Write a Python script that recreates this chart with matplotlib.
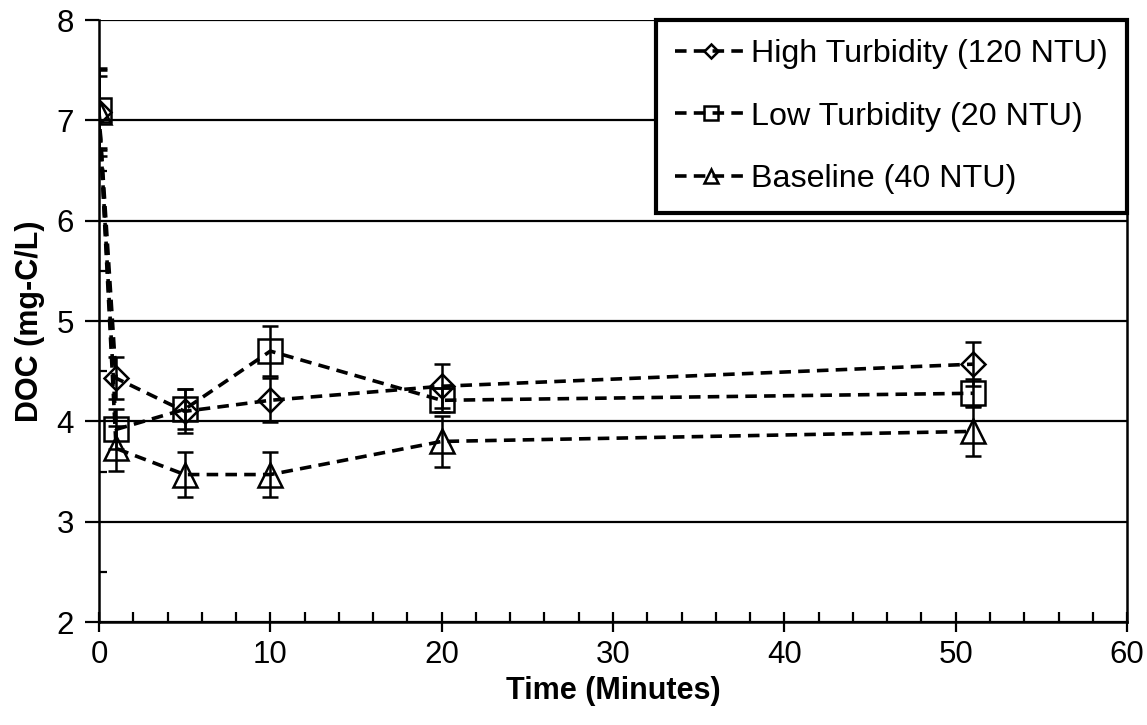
import matplotlib
matplotlib.use("Agg")
import matplotlib.pyplot as plt
from matplotlib.ticker import MultipleLocator

plt.rcParams['font.family'] = ['Liberation Sans', 'DejaVu Sans']

time = [0, 1, 5, 10, 20, 51]
high = [7.08, 4.43, 4.10, 4.21, 4.35, 4.57]
high_err = [0.44, 0.21, 0.22, 0.22, 0.22, 0.22]
low = [7.10, 3.92, 4.12, 4.70, 4.21, 4.28]
low_err = [0.40, 0.20, 0.20, 0.25, 0.12, 0.14]
base = [7.08, 3.73, 3.47, 3.47, 3.80, 3.90]
base_err = [0.36, 0.22, 0.22, 0.22, 0.25, 0.25]

labels = ["High Turbidity (120 NTU)", "Low Turbidity (20 NTU)", "Baseline (40 NTU)"]

fig = plt.figure(figsize=(11.47, 7.25), dpi=100)
ax = fig.add_axes([0.0863, 0.142, 0.8963, 0.8304])

series = [(high, high_err, 'D', 12), (low, low_err, 's', 17), (base, base_err, '^', 17)]
handles = []
for (vals, errs, mk, ms), lab in zip(series, labels):
    ax.errorbar(time, vals, yerr=errs, fmt='none', ecolor='black', elinewidth=1.8,
                capsize=6, capthick=1.8, zorder=3)
    h, = ax.plot(time, vals, linestyle=(0, (3.2, 2.0)), color='black', linewidth=2.6,
                 marker=mk, markersize=ms, markerfacecolor='none',
                 markeredgecolor='black', markeredgewidth=1.8, label=lab, zorder=4)
    handles.append(h)

ax.set_xlim(0, 60)
ax.set_ylim(2, 8)
ax.xaxis.set_major_locator(MultipleLocator(10))
ax.xaxis.set_minor_locator(MultipleLocator(2))
ax.yaxis.set_major_locator(MultipleLocator(1))
ax.yaxis.set_minor_locator(MultipleLocator(0.5))

ax.grid(axis='y', which='major', color='black', linewidth=1.6, zorder=1)
ax.tick_params(axis='x', which='major', direction='inout', length=14, width=1.6,
               labelsize=22.5, pad=6)
ax.tick_params(axis='x', which='minor', direction='in', length=7, width=1.6)
ax.tick_params(axis='y', which='major', direction='out', length=10, width=1.6,
               labelsize=22.5, pad=8)
ax.tick_params(axis='y', which='minor', direction='in', length=6, width=1.6)

for side in ['left', 'bottom', 'right']:
    ax.spines[side].set_linewidth(1.8)
ax.spines['top'].set_visible(False)

ax.set_xlabel("Time (Minutes)", fontsize=22, fontweight='bold', labelpad=4)
ax.set_ylabel("DOC (mg-C/L)", fontsize=22, fontweight='bold', labelpad=8)

leg = ax.legend(handles=handles, loc='upper right', fontsize=23.2, frameon=True,
                fancybox=False, edgecolor='black', framealpha=1, markerscale=0.6,
                borderaxespad=0, handlelength=2.2, handletextpad=0.15,
                labelspacing=1.0, borderpad=0.6)
leg.get_frame().set_linewidth(3)
leg.set_zorder(10)

fig.savefig("out.png", dpi=100)
